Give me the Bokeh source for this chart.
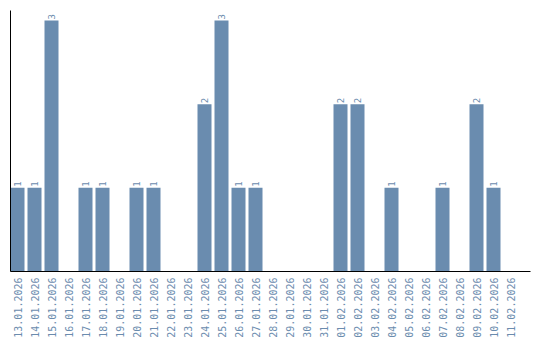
import math
from bokeh.plotting import figure
from bokeh.models import ColumnDataSource, Range1d, FixedTicker
from bokeh.core.properties import value
from bokeh.embed import file_html
from bokeh.resources import INLINE

dates = ["13.01.2026", "14.01.2026", "15.01.2026", "16.01.2026", "17.01.2026",
         "18.01.2026", "19.01.2026", "20.01.2026", "21.01.2026", "22.01.2026",
         "23.01.2026", "24.01.2026", "25.01.2026", "26.01.2026", "27.01.2026",
         "28.01.2026", "29.01.2026", "30.01.2026", "31.01.2026", "01.02.2026",
         "02.02.2026", "03.02.2026", "04.02.2026", "05.02.2026", "06.02.2026",
         "07.02.2026", "08.02.2026", "09.02.2026", "10.02.2026", "11.02.2026"]
counts = [1, 1, 3, 0, 1, 1, 0, 1, 1, 0,
          0, 2, 3, 1, 1, 0, 0, 0, 0, 2,
          2, 0, 1, 0, 0, 1, 0, 2, 1, 0]

BAR = "#6a8caf"
TXT = "#6b8cae"

xs = list(range(len(dates)))
src = ColumnDataSource(dict(x=xs, top=counts))
nz = [i for i, c in enumerate(counts) if c > 0]
lab = ColumnDataSource(dict(x=[xs[i] for i in nz], y=[counts[i] for i in nz],
                            t=[str(counts[i]) for i in nz]))

p = figure(width=540, height=340, output_backend="svg", toolbar_location=None,
           x_range=Range1d(-7 / 17, 520 / 17 - 7 / 17), y_range=Range1d(0, 3.12),
           min_border_left=10, min_border_right=10, min_border_top=10,
           min_border_bottom=0)
p.outline_line_color = None
p.grid.visible = False
p.background_fill_color = "white"

p.vbar(x="x", top="top", bottom=0, width=14 / 17, source=src,
       fill_color=BAR, line_color=None)
p.text(x="x", y="y", text="t", source=lab, angle=math.pi / 2,
       text_align="left", text_baseline="middle", y_offset=-1,
       text_font=value("DejaVu Sans Mono"), text_font_size="9px", text_color=TXT)

xa = p.xaxis[0]
xa.ticker = FixedTicker(ticks=xs)
xa.major_label_overrides = {i: d for i, d in enumerate(dates)}
xa.major_label_orientation = math.pi / 2
xa.major_label_text_font = "DejaVu Sans Mono"
xa.major_label_text_font_size = "10px"
xa.major_label_text_color = TXT
xa.major_tick_out = 0
xa.major_tick_in = 0
xa.minor_tick_out = 0
xa.minor_tick_in = 0
xa.major_label_standoff = 6
xa.axis_line_color = "black"

ya = p.yaxis[0]
ya.ticker = FixedTicker(ticks=[])
ya.major_tick_out = 0
ya.major_tick_in = 0
ya.minor_tick_out = 0
ya.minor_tick_in = 0
ya.major_label_standoff = 0
ya.axis_line_color = "black"

open("out.html", "w").write(file_html(p, INLINE))
